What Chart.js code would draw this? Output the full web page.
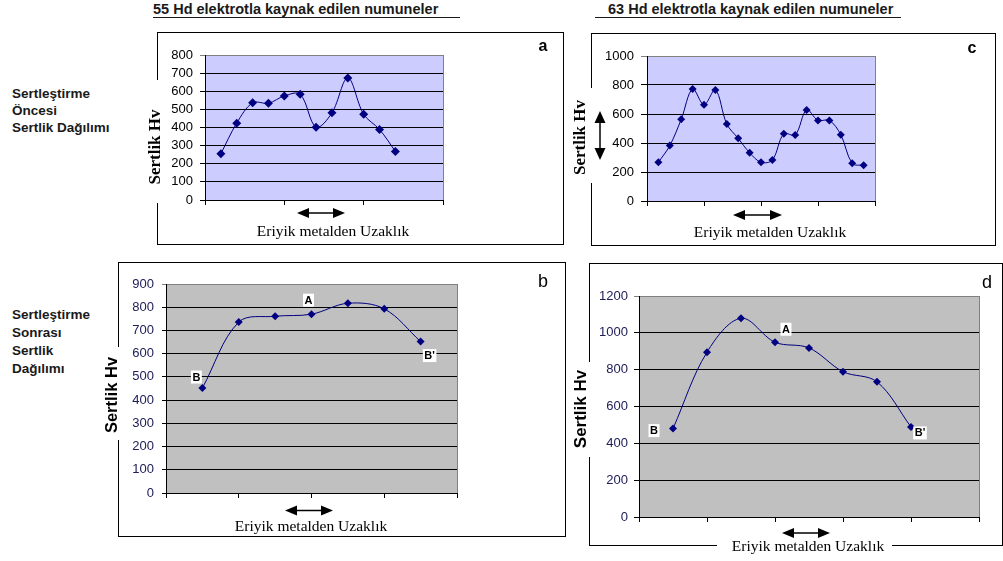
<!DOCTYPE html>
<html lang="tr">
<head>
<meta charset="UTF-8">
<title>Sertlik Dağılımı</title>
<script src="https://cdn.jsdelivr.net/npm/chart.js"></script>
<style>
  body { margin: 0; width: 1003px; height: 561px; background: #fff; position: relative; overflow: hidden;
         font-family: "Liberation Sans", Arial, sans-serif; }
  .head { position: absolute; top: 1px; height: 16px; line-height: 16px; font-size: 14.5px; font-weight: bold;
          color: #1a1a1a; border-bottom: 1px solid #1a1a1a; white-space: pre; }
  .side { position: absolute; left: 12px; font-size: 13.5px; font-weight: bold; color: #1a1a1a; }
  canvas { position: absolute; }
</style>
</head>
<body>
<div class="head" style="left:153px;width:307px">55 Hd elektrotla kaynak edilen numuneler</div>
<div class="head" style="left:595px;width:306px;text-indent:13px">63 Hd elektrotla kaynak edilen numuneler</div>
<div class="side" style="top:85px;line-height:17px">Sertleştirme<br>Öncesi<br>Sertlik Dağılımı</div>
<div class="side" style="top:306px;line-height:18px">Sertleştirme<br>Sonrası<br>Sertlik<br>Dağılımı</div>

<canvas id="chartA"></canvas>
<canvas id="chartC"></canvas>
<canvas id="chartB"></canvas>
<canvas id="chartD"></canvas>

<script>
// hardness readings (Hv) along the distance from the weld metal
const hardnessA = [255, 424, 536, 534, 574, 583, 402, 481, 673, 473, 389, 268];
const hardnessC = [267, 382, 563, 772, 664, 766, 531, 432, 333, 267, 283, 464, 455, 628, 556, 556, 457, 260, 246];
const hardnessB = [452, 736, 761, 770, 817, 793, 652];
const hardnessD = [480, 895, 1079, 949, 918, 789, 734, 489];

// point tags on the hardened samples
const tagsB = ['B', '', '', 'A', '', '', "B'"];
const tagsD = ['B', '', '', 'A', '', '', '', "B'"];

const yTitle = 'Sertlik Hv';
const xTitle = 'Eriyik metalden Uzaklık';

const SANS = '"Liberation Sans", Arial, sans-serif';
const SERIF = '"Liberation Serif", "Times New Roman", serif';

// layout of each panel, in page pixels
const panels = [
  { id: 'chartA', values: hardnessA, tags: null, letter: 'a',
    xMax: 15, xStep: 5, yMax: 800, yStep: 100,
    canvas: { x: 130, y: 25, w: 438, h: 229 }, plot: { l: 205, t: 55, r: 443, b: 200 },
    plotColor: '#ccccff', tickColor: '#000', tickLen: 5, tickPad: 7, radius: 4.5,
    box: [157.5, 32.5, 563.5, 244.5], gaps: [[146, 80, 20, 123]],
    yTitlePos: [155.5, 147], yTitleFont: 'bold 17px ' + SERIF,
    xTitlePos: [333, 231.5], hArrow: [297, 345, 213], vArrow: null,
    letterPos: [543, 47], letterFont: 'bold 16px ' + SANS, tagOffsets: [] },
  { id: 'chartC', values: hardnessC, tags: null, letter: 'c',
    xMax: 20, xStep: 5, yMax: 1000, yStep: 200,
    canvas: { x: 568, y: 25, w: 435, h: 229 }, plot: { l: 647, t: 56, r: 875, b: 201 },
    plotColor: '#ccccff', tickColor: '#000', tickLen: 6, tickPad: 7, radius: 4,
    box: [591.5, 33.5, 995.5, 245.5], gaps: [[572, 88, 24, 95]],
    yTitlePos: [581, 137.5], yTitleFont: 'bold 17px ' + SERIF,
    xTitlePos: [770, 233], hArrow: [733, 782, 215], vArrow: [600, 111, 160],
    letterPos: [972, 49], letterFont: 'bold 16px ' + SANS, tagOffsets: [] },
  { id: 'chartB', values: hardnessB, tags: tagsB, letter: 'b',
    xMax: 8, xStep: 2, yMax: 900, yStep: 100,
    canvas: { x: 95, y: 254, w: 475, h: 294 }, plot: { l: 166, t: 284, r: 457, b: 493 },
    plotColor: '#c0c0c0', tickColor: '#20205a', tickLen: 4, tickPad: 8, radius: 4,
    box: [118.5, 262.5, 565.5, 536.5], gaps: [[104, 347, 22, 93]],
    yTitlePos: [112, 395], yTitleFont: 'bold 16.5px ' + SANS,
    xTitlePos: [311, 527], hArrow: [285, 333, 510.5], vArrow: null,
    letterPos: [543, 282], letterFont: '18px ' + SANS,
    tagOffsets: [[-6, -11], null, null, [-3, -14], null, null, [9, 14]] },
  { id: 'chartD', values: hardnessD, tags: tagsD, letter: 'd',
    xMax: 10, xStep: 2, yMax: 1200, yStep: 200,
    canvas: { x: 570, y: 254, w: 433, h: 307 }, plot: { l: 639, t: 296, r: 979, b: 517 },
    plotColor: '#c0c0c0', tickColor: '#20205a', tickLen: 5, tickPad: 6, radius: 4,
    box: [589.5, 263.5, 1002.5, 545.5], gaps: [[573, 362, 22, 95], [717, 540, 175, 11]],
    yTitlePos: [581, 409], yTitleFont: 'bold 17px ' + SANS,
    xTitlePos: [808, 547], hArrow: [782, 830, 533], vArrow: null,
    letterPos: [987, 283], letterFont: '18px ' + SANS,
    tagOffsets: [[-19, 2], null, null, [11, -13], null, null, null, [9, 6]] }
];

const panelById = {};
panels.forEach(p => { panelById[p.id] = p; });

function drawHArrow(ctx, x1, x2, y) {
  const hl = 12, hw = 5;
  ctx.lineWidth = 1.5;
  ctx.beginPath(); ctx.moveTo(x1 + hl - 1, y); ctx.lineTo(x2 - hl + 1, y); ctx.stroke();
  ctx.beginPath(); ctx.moveTo(x1, y); ctx.lineTo(x1 + hl, y - hw); ctx.lineTo(x1 + hl, y + hw); ctx.closePath(); ctx.fill();
  ctx.beginPath(); ctx.moveTo(x2, y); ctx.lineTo(x2 - hl, y - hw); ctx.lineTo(x2 - hl, y + hw); ctx.closePath(); ctx.fill();
}

function drawVArrow(ctx, x, y1, y2) {
  const hl = 12, hw = 5.5;
  ctx.lineWidth = 1.5;
  ctx.beginPath(); ctx.moveTo(x, y1 + hl - 1); ctx.lineTo(x, y2 - hl + 1); ctx.stroke();
  ctx.beginPath(); ctx.moveTo(x, y1); ctx.lineTo(x - hw, y1 + hl); ctx.lineTo(x + hw, y1 + hl); ctx.closePath(); ctx.fill();
  ctx.beginPath(); ctx.moveTo(x, y2); ctx.lineTo(x - hw, y2 - hl); ctx.lineTo(x + hw, y2 - hl); ctx.closePath(); ctx.fill();
}

const decoPlugin = {
  id: 'deco',
  beforeDraw(chart) {
    const p = panelById[chart.canvas.id];
    const a = chart.chartArea, ctx = chart.ctx;
    ctx.save();
    ctx.fillStyle = p.plotColor;
    ctx.fillRect(a.left, a.top, a.right - a.left, a.bottom - a.top);
    ctx.restore();
  },
  beforeDatasetsDraw(chart) {
    const a = chart.chartArea, ctx = chart.ctx;
    const rx = Math.round(a.right - 0.5) + 0.5;
    ctx.save();
    ctx.strokeStyle = '#808080';
    ctx.lineWidth = 1;
    ctx.beginPath(); ctx.moveTo(rx, a.top); ctx.lineTo(rx, a.bottom); ctx.stroke();
    ctx.restore();
  },
  afterDraw(chart) {
    const p = panelById[chart.canvas.id];
    const ctx = chart.ctx;
    const ox = p.canvas.x, oy = p.canvas.y;
    ctx.save();
    ctx.translate(-ox, -oy);

    // outer frame
    ctx.strokeStyle = '#000';
    ctx.lineWidth = 1;
    const [bx1, by1, bx2, by2] = p.box;
    ctx.strokeRect(bx1, by1, bx2 - bx1, by2 - by1);
    ctx.fillStyle = '#fff';
    p.gaps.forEach(g => ctx.fillRect(g[0], g[1], g[2], g[3]));

    // axis titles
    ctx.fillStyle = '#000';
    ctx.textAlign = 'center';
    ctx.textBaseline = 'middle';
    ctx.save();
    ctx.translate(p.yTitlePos[0], p.yTitlePos[1]);
    ctx.rotate(-Math.PI / 2);
    ctx.font = p.yTitleFont;
    ctx.fillText(yTitle, 0, 0);
    ctx.restore();

    ctx.font = '15.5px ' + SERIF;
    ctx.fillText(xTitle, p.xTitlePos[0], p.xTitlePos[1]);

    // arrows
    ctx.strokeStyle = '#000';
    ctx.fillStyle = '#000';
    drawHArrow(ctx, p.hArrow[0], p.hArrow[1], p.hArrow[2]);
    if (p.vArrow) drawVArrow(ctx, p.vArrow[0], p.vArrow[1], p.vArrow[2]);

    // panel letter
    ctx.font = p.letterFont;
    ctx.fillText(p.letter, p.letterPos[0], p.letterPos[1]);
    ctx.restore();

    // point tags
    if (p.tags) {
      const pts = chart.getDatasetMeta(0).data;
      ctx.save();
      ctx.font = 'bold 11px ' + SANS;
      ctx.textAlign = 'center';
      ctx.textBaseline = 'middle';
      p.tags.forEach((t, i) => {
        if (!t) return;
        const off = p.tagOffsets[i];
        const cx = pts[i].x + off[0], cy = pts[i].y + off[1];
        const w = ctx.measureText(t).width + 3;
        ctx.fillStyle = '#fff';
        ctx.fillRect(cx - w / 2, cy - 6.5, w, 13);
        ctx.fillStyle = '#000';
        ctx.fillText(t, cx, cy + 0.5);
      });
      ctx.restore();
    }
  }
};

panels.forEach(p => {
  const canvas = document.getElementById(p.id);
  canvas.width = p.canvas.w;
  canvas.height = p.canvas.h;
  canvas.style.left = p.canvas.x + 'px';
  canvas.style.top = p.canvas.y + 'px';

  const points = p.values.map((v, i) => ({ x: i + 1, y: v }));
  const yMax = p.yMax;

  new Chart(canvas.getContext('2d'), {
    type: 'line',
    data: {
      datasets: [{
        data: points,
        borderColor: '#000080',
        backgroundColor: '#000080',
        borderWidth: 1,
        tension: 0.35,
        pointStyle: 'rectRot',
        pointRadius: p.radius,
        pointBorderWidth: 0,
        fill: false
      }]
    },
    options: {
      responsive: false,
      animation: false,
      events: [],
      layout: {
        padding: { left: 0, top: p.plot.t - p.canvas.y, right: p.canvas.x + p.canvas.w - p.plot.r, bottom: 0 }
      },
      plugins: { legend: { display: false }, tooltip: { enabled: false } },
      scales: {
        x: {
          type: 'linear', min: 0, max: p.xMax,
          ticks: { display: false, stepSize: p.xStep, autoSkip: false },
          grid: { drawOnChartArea: false, drawTicks: true, tickLength: 5, color: '#000' },
          border: { color: '#000', width: 1 },
          afterFit: s => { s.height = p.canvas.y + p.canvas.h - p.plot.b; }
        },
        y: {
          type: 'linear', min: 0, max: yMax,
          ticks: { stepSize: p.yStep, autoSkip: false, color: p.tickColor, padding: p.tickPad,
                   font: { family: SANS, size: 13 }, callback: v => String(v) },
          grid: { color: c => (c.tick && c.tick.value === yMax) ? '#808080' : '#000',
                  tickLength: p.tickLen, lineWidth: 1 },
          border: { color: '#000', width: 1 },
          afterFit: s => { s.width = p.plot.l - p.canvas.x; }
        }
      }
    },
    plugins: [decoPlugin]
  });
});
</script>
</body>
</html>
